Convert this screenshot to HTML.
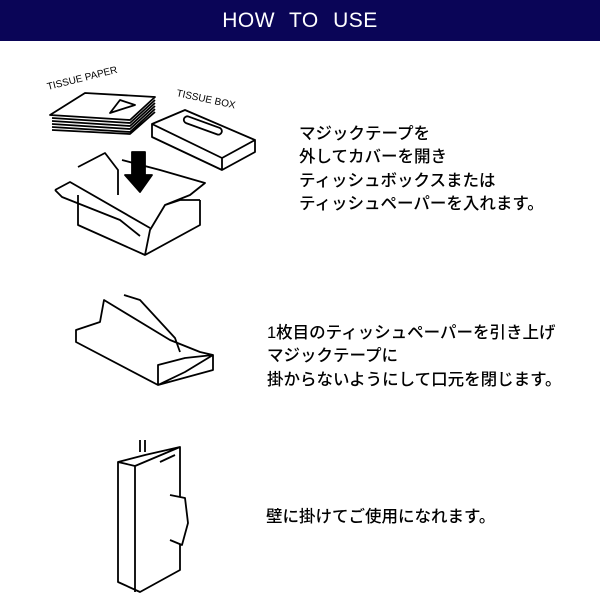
<!DOCTYPE html>
<html><head><meta charset="utf-8"><style>
body{margin:0;width:600px;height:600px;background:#fff;position:relative;overflow:hidden;font-family:"Liberation Sans","Noto Sans CJK JP",sans-serif}
.hd{position:absolute;left:0;top:0;width:600px;height:41px;background:#0a0557;color:#fff;font-size:21px;text-align:center;line-height:41px;letter-spacing:0.5px;word-spacing:8px}
.t{position:absolute;font-size:16.5px;line-height:23.3px;color:#000;white-space:nowrap;font-weight:500}
svg{position:absolute;left:0;top:0}
</style></head><body>
<div class="hd">HOW TO USE</div>
<div class="t" style="left:299px;top:123px">マジックテープを<br>外してカバーを開き<br>ティッシュボックスまたは<br>ティッシュペーパーを入れます。</div>
<div class="t" style="left:267px;top:322px">1枚目のティッシュペーパーを引き上げ<br>マジックテープに<br>掛からないようにして口元を閉じます。</div>
<div class="t" style="left:266px;top:506px">壁に掛けてご使用になれます。</div>
<svg width="600" height="600" fill="none" stroke="#000" stroke-width="1.8" stroke-linejoin="round">
<text x="48" y="90" font-size="10" fill="#000" stroke="none" transform="rotate(-14 48 90)" font-family="Liberation Sans">TISSUE PAPER</text>
<text x="176" y="96" font-size="10" fill="#000" stroke="none" transform="rotate(12 176 96)" font-family="Liberation Sans">TISSUE BOX</text>
<path d="M50 115 L85 93 L155 97 L130 120 Z" fill="#fff"/>
<path d="M52 118 L130 123 L155 100 M52 121 L130 126 L155 103 M52 124 L130 129 L155 106 M52 127 L130 132 L155 109 M52 130 L130 134 L155 112"/>
<path d="M110 113 L120 100 L135 105 Z" fill="#fff"/>
<path d="M152 124 L185 110 L255 140 L222 158 Z M152 124 L152 137 L222 170 L222 158 M222 170 L255 152 L255 140"/>
<rect x="183" y="122" width="40" height="7" rx="3.5" transform="rotate(20 203 125)"/>
<path d="M132 152 L145 152 L145 175 L152 175 L140 192 L125 175 L132 175 Z" fill="#000"/>
<path d="M78 167 L105 153 L118 170 L118 195 M122 160 L160 170 L205 183 L190 195 L165 205 L150 230 L145 255 M55 190 L70 182 L150 228 M55 190 L62 197 L120 220 L140 236 M78 195 L78 225 L145 255 L200 225 L200 200 M165 205 L180 200 L200 200"/>
<path d="M76 330 L100 322 L104 300 L170 340 L200 352 L213 355 L185 372 L158 385 L76 342 Z M158 385 L158 365 L185 358 L213 355 L213 370 L158 385 M124 295 L140 300 L175 338 L180 352"/>
<path d="M118 462 L145 455 L180 447 L180 570 L140 592 L118 582 Z M118 462 L135 466 L135 592 M135 466 L180 447 M160 462 L175 455 M140 440 L140 452 M145 440 L145 452"/>
<path d="M170 495 L185 498 L188 523 L182 545 L170 540" fill="#fff"/>
</svg>
</body></html>
